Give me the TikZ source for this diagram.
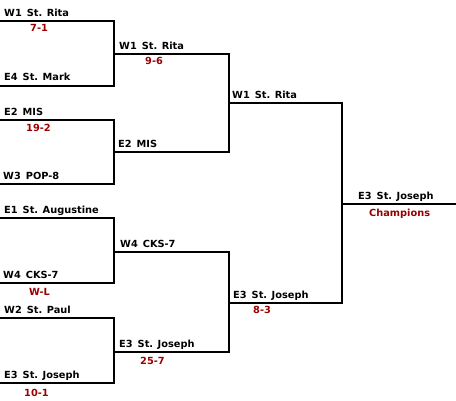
\documentclass[tikz,border=0pt]{standalone}
\usepackage{fontspec}
\setmainfont{DejaVu Sans}
\definecolor{scorered}{HTML}{990000}
\newcommand{\gap}{\hspace{5pt}}
\begin{document}
\begin{tikzpicture}[x=1pt,y=-1pt,
  bracket/.style={line width=2pt,black,line join=miter},
  team/.style={anchor=base west,inner sep=0pt,font=\bfseries\fontsize{9.8}{11}\selectfont},
  score/.style={anchor=base west,inner sep=0pt,text=scorered,font=\bfseries\fontsize{9.8}{11}\selectfont}]
\useasboundingbox (0,0) rectangle (456,401);
% slot coordinates
\coordinate (r1a) at (0,21);
\coordinate (r1b) at (0,86);
\coordinate (r1c) at (0,120);
\coordinate (r1d) at (0,184);
\coordinate (r1e) at (0,218);
\coordinate (r1f) at (0,283);
\coordinate (r1g) at (0,318);
\coordinate (r1h) at (0,383);
\coordinate (m1) at (114,54);
\coordinate (m2) at (114,152);
\coordinate (m3) at (114,252);
\coordinate (m4) at (114,352);
\coordinate (s1) at (229,103);
\coordinate (s2) at (229,303);
\coordinate (f) at (342,204);
\coordinate (fe) at (456,204);
% bracket lines
\draw[bracket] (r1a) -- (r1a -| m1) -- (r1b -| m1) -- (r1b);
\draw[bracket] (r1c) -- (r1c -| m2) -- (r1d -| m2) -- (r1d);
\draw[bracket] (r1e) -- (r1e -| m3) -- (r1f -| m3) -- (r1f);
\draw[bracket] (r1g) -- (r1g -| m4) -- (r1h -| m4) -- (r1h);
\draw[bracket] (m1) -- (m1 -| s1) -- (m2 -| s1) -- (m2);
\draw[bracket] (m3) -- (m3 -| s2) -- (m4 -| s2) -- (m4);
\draw[bracket] (s1) -- (s1 -| f) -- (s2 -| f) -- (s2);
\draw[bracket] (f) -- (fe);
% round 1 names
\node[team] (t1) at (4,17) {W1\gap St. Rita};
\node[team] (t2) at (4,81) {E4\gap St. Mark};
\node[team] (t3) at (4,116) {E2\gap MIS};
\node[team] (t4) at (3,180) {W3\gap POP-8};
\node[team] (t5) at (4,214) {E1\gap St. Augustine};
\node[team] (t6) at (3,279) {W4\gap CKS-7};
\node[team] (t7) at (4,314) {W2\gap St. Paul};
\node[team] (t8) at (4,379) {E3\gap St. Joseph};
% round 2 names
\node[team] (u1) at (119,50) {W1\gap St. Rita};
\node[team] (u2) at (118,148) {E2\gap MIS};
\node[team] (u3) at (120,248) {W4\gap CKS-7};
\node[team] (u4) at (119,348) {E3\gap St. Joseph};
% round 3 names
\node[team] (v1) at (232,99) {W1\gap St. Rita};
\node[team] (v2) at (233,299) {E3\gap St. Joseph};
% final
\node[team] (w1) at (358,200) {E3\gap St. Joseph};
% scores
\node[score] (c1) at (30,32) {7-1};
\node[score] (c2) at (26,132) {19-2};
\node[score] (c3) at (29,296) {W-L};
\node[score] (c4) at (24,396) {10-1};
\node[score] (d1) at (145,65) {9-6};
\node[score] (d2) at (140,364) {25-7};
\node[score] (e1) at (253,314) {8-3};
\node[score] (ch) at (369,217) {Champions};
\end{tikzpicture}
\end{document}
